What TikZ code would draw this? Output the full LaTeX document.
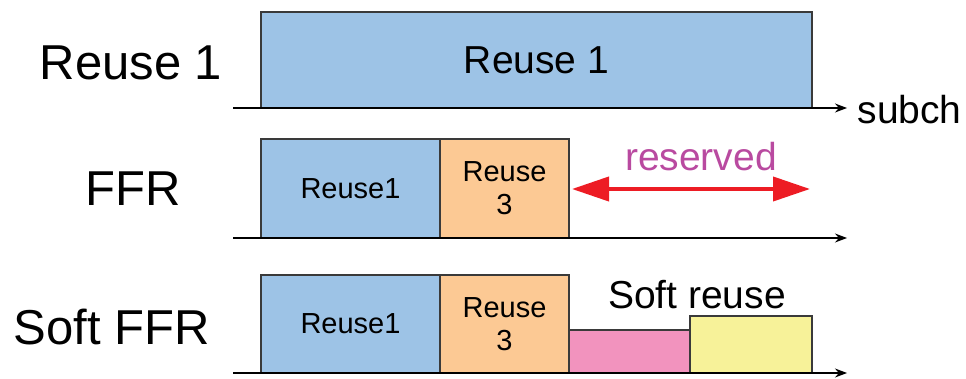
\documentclass[tikz,border=0pt]{standalone}
\usepackage{fontspec}
\setmainfont{Liberation Sans}
\usetikzlibrary{arrows.meta}
\definecolor{cblue}{HTML}{9DC3E6}
\definecolor{corange}{HTML}{FCC994}
\definecolor{cpink}{HTML}{F293BE}
\definecolor{cyellow}{HTML}{F7F299}
\definecolor{cred}{HTML}{ED1C24}
\definecolor{cmag}{HTML}{B94AA0}
\definecolor{cedge}{HTML}{3A3A3A}
\begin{document}
\begin{tikzpicture}[x=1pt,y=-1pt,
  blk/.style={draw=cedge,line width=1.3pt,inner sep=0pt,outer sep=0pt,align=center},
  axis/.style={line width=1.3pt,-{Stealth[length=12pt,width=9pt]}},
  big/.style={font=\fontsize{49}{52}\selectfont},
  mid/.style={font=\fontsize{39}{42}\selectfont},
  sml/.style={font=\fontsize{29}{33}\selectfont}]
\useasboundingbox (0,0) rectangle (966,379);
% row 1
\node[blk,fill=cblue,minimum width=551pt,minimum height=96pt,mid] (r1) at (536.5,60) {Reuse 1};
\coordinate (a1s) at (233,108);
\coordinate (a1e) at (847,108);
\draw[axis] (a1s) -- (a1e);
\node[big] (l1) at (131,63) {Reuse 1};
\node[mid,anchor=west] (sub) at (854,110) {subch};
% row 2
\node[blk,fill=cblue,minimum width=179pt,minimum height=99pt,sml] (f1) at (350.5,188.5) {Reuse1};
\node[blk,fill=corange,minimum width=129pt,minimum height=99pt,sml] (f3) at (504.5,188.5) {Reuse\\3};
\coordinate (a2s) at (233,238);
\coordinate (a2e) at (847,238);
\draw[axis] (a2s) -- (a2e);
\node[big] (l2) at (133,189) {FFR};
\coordinate (rs) at (572,189);
\coordinate (re) at (810,189);
\draw[cred,line width=4pt,{Triangle[length=37pt,width=24pt]}-{Triangle[length=37pt,width=24pt]}] (rs) -- (re);
\node[mid,text=cmag] (res) at (701,157) {reserved};
% row 3
\node[blk,fill=cblue,minimum width=179pt,minimum height=98pt,sml] (s1) at (350.5,324) {Reuse1};
\node[blk,fill=corange,minimum width=129pt,minimum height=98pt,sml] (s3) at (504.5,324) {Reuse\\3};
\node[blk,fill=cpink,minimum width=121pt,minimum height=43pt] (sp) at (629.5,351.5) {};
\node[blk,fill=cyellow,minimum width=122pt,minimum height=57pt] (sy) at (751,344.5) {};
\coordinate (a3s) at (233,373);
\coordinate (a3e) at (847,373);
\draw[axis] (a3s) -- (a3e);
\node[big] (l3) at (112,327) {Soft FFR};
\node[mid] (sr) at (697,295) {Soft reuse};
\end{tikzpicture}
\end{document}
